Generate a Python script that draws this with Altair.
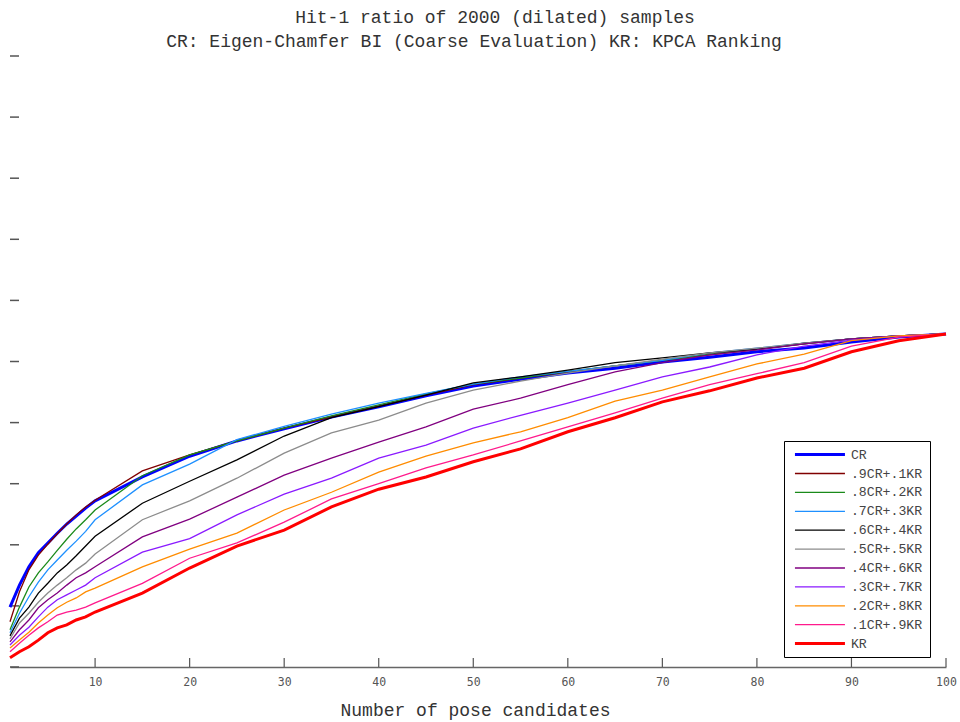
import altair as alt
import pandas as pd

# ---------------- data ----------------
x_vals = [1, 2, 3, 4, 5, 6, 7, 8, 9, 10, 15, 20, 25, 30, 35, 40, 45, 50,
          55, 60, 65, 70, 75, 80, 85, 90, 95, 100]

series_names = ["CR", ".9CR+.1KR", ".8CR+.2KR", ".7CR+.3KR", ".6CR+.4KR",
                ".5CR+.5KR", ".4CR+.6KR", ".3CR+.7KR", ".2CR+.8KR",
                ".1CR+.9KR", "KR"]

cr = [0.098, 0.134, 0.164, 0.187, 0.203, 0.219, 0.234, 0.247, 0.260, 0.272,
      0.311, 0.345, 0.370, 0.390, 0.409, 0.426, 0.444, 0.460, 0.471, 0.481,
      0.489, 0.499, 0.507, 0.516, 0.522, 0.532, 0.540, 0.545]
cr9 = [0.074, 0.123, 0.159, 0.183, 0.201, 0.218, 0.234, 0.249, 0.262, 0.273,
       0.321, 0.347, 0.370, 0.391, 0.409, 0.427, 0.445, 0.462, 0.473, 0.483,
       0.493, 0.502, 0.511, 0.520, 0.529, 0.537, 0.542, 0.545]
cr8 = [0.061, 0.098, 0.131, 0.154, 0.172, 0.191, 0.209, 0.226, 0.241, 0.257,
       0.313, 0.347, 0.370, 0.391, 0.411, 0.429, 0.447, 0.463, 0.473, 0.484,
       0.493, 0.502, 0.512, 0.520, 0.529, 0.537, 0.542, 0.545]
cr7 = [0.056, 0.088, 0.115, 0.139, 0.159, 0.175, 0.191, 0.206, 0.222, 0.241,
       0.298, 0.332, 0.372, 0.394, 0.414, 0.432, 0.448, 0.463, 0.475, 0.484,
       0.493, 0.502, 0.514, 0.522, 0.530, 0.537, 0.542, 0.545]
cr6 = [0.051, 0.080, 0.098, 0.121, 0.137, 0.154, 0.167, 0.182, 0.198, 0.214,
       0.268, 0.304, 0.339, 0.378, 0.408, 0.426, 0.445, 0.465, 0.475, 0.486,
       0.498, 0.506, 0.514, 0.520, 0.530, 0.537, 0.542, 0.545]
cr5 = [0.046, 0.072, 0.088, 0.106, 0.121, 0.134, 0.146, 0.159, 0.170, 0.185,
       0.241, 0.272, 0.309, 0.350, 0.383, 0.404, 0.432, 0.453, 0.468, 0.481,
       0.493, 0.504, 0.514, 0.522, 0.530, 0.537, 0.542, 0.545]
cr4 = [0.041, 0.061, 0.077, 0.097, 0.110, 0.121, 0.134, 0.146, 0.154, 0.164,
       0.213, 0.242, 0.278, 0.314, 0.342, 0.368, 0.393, 0.422, 0.440, 0.462,
       0.483, 0.498, 0.511, 0.519, 0.529, 0.537, 0.542, 0.545]
cr3 = [0.036, 0.052, 0.065, 0.082, 0.098, 0.110, 0.118, 0.126, 0.134, 0.146,
       0.188, 0.210, 0.249, 0.283, 0.309, 0.342, 0.363, 0.391, 0.412, 0.432,
       0.453, 0.475, 0.491, 0.511, 0.525, 0.535, 0.542, 0.545]
cr2 = [0.031, 0.044, 0.057, 0.072, 0.085, 0.097, 0.106, 0.113, 0.123, 0.129,
       0.164, 0.193, 0.219, 0.257, 0.286, 0.319, 0.345, 0.367, 0.385, 0.408,
       0.435, 0.453, 0.475, 0.496, 0.512, 0.534, 0.542, 0.545]
cr1 = [0.025, 0.039, 0.052, 0.064, 0.074, 0.085, 0.090, 0.093, 0.098, 0.105,
       0.137, 0.178, 0.203, 0.237, 0.275, 0.300, 0.326, 0.347, 0.370, 0.393,
       0.416, 0.440, 0.462, 0.480, 0.498, 0.525, 0.540, 0.545]
kr = [0.015, 0.025, 0.033, 0.044, 0.056, 0.064, 0.069, 0.077, 0.082, 0.090,
      0.121, 0.162, 0.198, 0.224, 0.262, 0.291, 0.311, 0.336, 0.357, 0.385,
      0.408, 0.434, 0.452, 0.473, 0.489, 0.516, 0.534, 0.545]

series_values = [cr, cr9, cr8, cr7, cr6, cr5, cr4, cr3, cr2, cr1, kr]

series_colors = ["#0000ff", "#800000", "#1a8a1a", "#1e90ff", "#000000",
                 "#8c8c8c", "#800080", "#8a1aff", "#ff8c00", "#ff1a8c",
                 "#ff0000"]
series_widths = [3, 1.3, 1.3, 1.3, 1.3, 1.3, 1.3, 1.3, 1.3, 1.3, 3]

x_ticks = [10, 20, 30, 40, 50, 60, 70, 80, 90, 100]
y_ticks = [0, 0.1, 0.2, 0.3, 0.4, 0.5, 0.6, 0.7, 0.8, 0.9, 1.0]

title_lines = ["Hit-1 ratio of 2000 (dilated) samples",
               "CR: Eigen-Chamfer BI (Coarse Evaluation) KR: KPCA Ranking"]
x_title = "Number of pose candidates"

# ---------------- build ----------------
rows = []
for name, vals in zip(series_names, series_values):
    for xv, yv in zip(x_vals, vals):
        rows.append({"x": xv, "y": yv, "s": name})
df = pd.DataFrame(rows)

MONO = "Liberation Mono"
W, H = 936, 611

xscale = alt.Scale(domain=[1, 100], nice=False, zero=False)
yscale = alt.Scale(domain=[0, 1], nice=False)
xaxis = alt.Axis(values=x_ticks, ticks=False, grid=False,
                 labelFont="DejaVu Sans Mono", labelFontSize=11.5,
                 labelColor="#555555", labelPadding=9, labelFlush=False,
                 domainColor="#666666", domainWidth=1.5,
                 title=x_title, titleFont=MONO, titleFontSize=18,
                 titleFontWeight="normal", titleColor="#333333",
                 titlePadding=14, titleX=465, titleAlign="center")
yaxis = alt.Axis(labels=False, ticks=False, domain=False, grid=False,
                 title=None)

legend_kw = dict(title=None, orient="none", legendX=774, legendY=385,
                 symbolType="M-0.53,0H9.47", symbolSize=100,
                 labelFont=MONO, labelFontSize=13.2, labelColor="#444444",
                 labelOffset=46.7, rowPadding=4.9, padding=7,
                 strokeColor="#000000", fillColor="#ffffff")

color_enc = alt.Color("s:N", scale=alt.Scale(domain=series_names,
                                             range=series_colors),
                      legend=alt.Legend(**legend_kw))
width_enc = alt.StrokeWidth("s:N", scale=alt.Scale(type="ordinal",
                                                   domain=series_names,
                                                   range=series_widths),
                            legend=alt.Legend(**legend_kw))

base = alt.Chart(df).mark_line().encode(
    x=alt.X("x:Q", scale=xscale, axis=xaxis),
    y=alt.Y("y:Q", scale=yscale, axis=yaxis),
    color=color_enc,
    strokeWidth=width_enc,
)

layers = [base.transform_filter(alt.datum.s == name) for name in series_names]

xtick_layer = alt.Chart(pd.DataFrame({"x": x_ticks})).mark_rule(
    color="#555555", strokeWidth=1.2).encode(
    x=alt.X("x:Q", scale=xscale, axis=xaxis),
    y=alt.value(H), y2=alt.value(H - 9))

ytick_layer = alt.Chart(pd.DataFrame({"y": y_ticks})).mark_rule(
    color="#555555", strokeWidth=1.5).encode(
    y=alt.Y("y:Q", scale=yscale, axis=yaxis),
    x=alt.value(0), x2=alt.value(9))

title1 = alt.Chart(pd.DataFrame({"t": [title_lines[0]]})).mark_text(
    font=MONO, fontSize=18, color="#333333", align="center",
    baseline="middle").encode(text="t:N", x=alt.value(485), y=alt.value(-38))
title2 = alt.Chart(pd.DataFrame({"t": [title_lines[1]]})).mark_text(
    font=MONO, fontSize=18, color="#333333", align="center",
    baseline="middle").encode(text="t:N", x=alt.value(464), y=alt.value(-14))

chart = alt.layer(xtick_layer, ytick_layer, *layers, title1, title2).properties(
    width=W, height=H,
    background="white",
    autosize=alt.AutoSizeParams(type="none"),
    padding={"left": 10, "top": 56, "right": 14, "bottom": 55},
).configure_view(stroke=None)

chart.save("out.html", embed_options={"renderer": "svg", "actions": False})
